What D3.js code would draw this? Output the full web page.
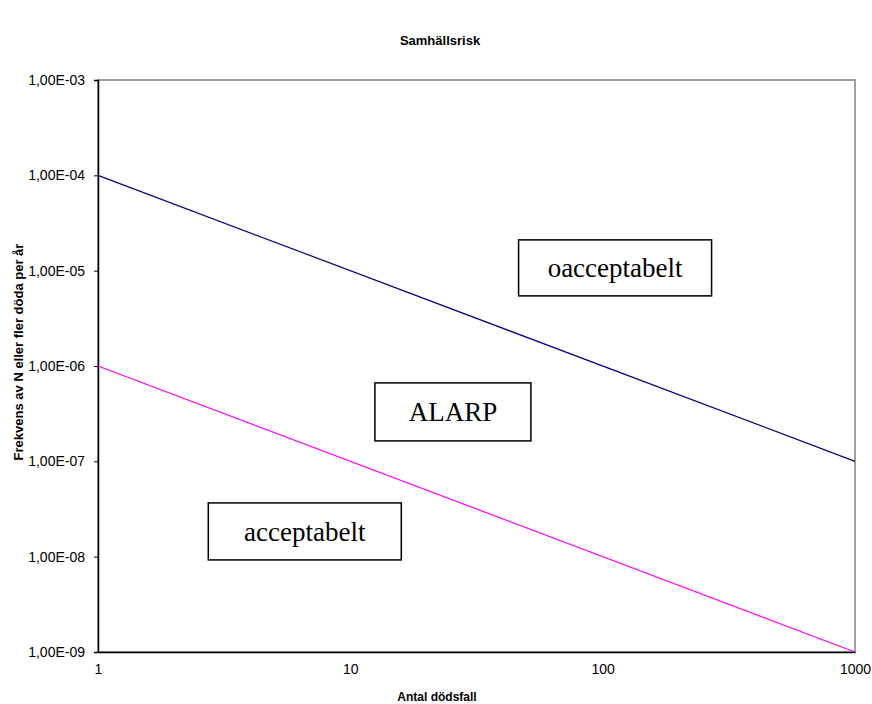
<!DOCTYPE html>
<html>
<head>
<meta charset="utf-8">
<script src="https://cdn.jsdelivr.net/npm/d3@7"></script>
<style>
  body { margin: 0; background: #fff; }
  svg { display: block; font-family: Arial, "Liberation Sans", sans-serif; }
</style>
</head>
<body>
<svg width="872" height="704"></svg>
<script>
// chart values
const xTicks = [1, 10, 100, 1000];
const yTicks = [1e-9, 1e-8, 1e-7, 1e-6, 1e-5, 1e-4, 1e-3];
const upperLine = [[1, 1e-4], [1000, 1e-7]];
const lowerLine = [[1, 1e-6], [1000, 1e-9]];
// text boxes: label, centre in data coords, box size
const boxLabels = ["acceptabelt", "ALARP", "oacceptabelt"];
const boxCentres = [[6.6, 1.84e-8], [25.5, 3.3e-7], [112, 1.07e-5]];
const boxSizes = [[193, 57], [156, 58], [193, 56]];

const svg = d3.select("svg");
const W = 872, H = 704;
const m = {left: 98, right: 17, top: 80, bottom: 52};
const pw = W - m.left - m.right, ph = H - m.top - m.bottom;

const x = d3.scaleLog().domain([1, 1000]).range([m.left, m.left + pw]);
const y = d3.scaleLog().domain([1e-9, 1e-3]).range([m.top + ph, m.top]);

const fmt = function(v) {
  const e = Math.round(Math.log10(v));
  return "1,00E-" + String(-e).padStart(2, "0");
};

// plot frame (top/right grey)
svg.append("rect")
  .attr("x", m.left).attr("y", m.top)
  .attr("width", pw).attr("height", ph)
  .attr("fill", "none").attr("stroke", "#808080").attr("stroke-width", 1.5);

// y axis
const yAxis = svg.append("g")
  .attr("transform", "translate(" + m.left + ",0)")
  .call(d3.axisLeft(y).tickValues(yTicks).tickFormat(fmt).tickSize(4).tickPadding(9));
yAxis.select(".domain").attr("stroke", "#000").attr("stroke-width", 1.5);
yAxis.selectAll("text").attr("font-size", 14).attr("fill", "#000")
  .attr("font-family", "Arial, 'Liberation Sans', sans-serif");

// x axis
const xAxis = svg.append("g")
  .attr("transform", "translate(0," + (m.top + ph) + ")")
  .call(d3.axisBottom(x).tickValues(xTicks).tickFormat(d3.format("d")).tickSize(0).tickPadding(12));
xAxis.select(".domain").attr("stroke", "#000").attr("stroke-width", 1.5);
xAxis.selectAll("text").attr("font-size", 14).attr("fill", "#000")
  .attr("font-family", "Arial, 'Liberation Sans', sans-serif");

// lines
const line = d3.line().x(d => x(d[0])).y(d => y(d[1]));
svg.append("path").datum(upperLine).attr("d", line)
  .attr("fill", "none").attr("stroke", "#000080").attr("stroke-width", 1.2);
svg.append("path").datum(lowerLine).attr("d", line)
  .attr("fill", "none").attr("stroke", "#FF00FF").attr("stroke-width", 1.2);

// annotation boxes
const boxes = svg.selectAll("g.box")
  .data(boxLabels.map((t, i) => ({t: t, c: boxCentres[i], s: boxSizes[i]})))
  .enter().append("g").attr("class", "box")
  .attr("transform", d => "translate(" + x(d.c[0]) + "," + y(d.c[1]) + ")");
boxes.append("rect")
  .attr("x", d => -d.s[0] / 2).attr("y", d => -d.s[1] / 2)
  .attr("width", d => d.s[0]).attr("height", d => d.s[1])
  .attr("fill", "#fff").attr("stroke", "#000").attr("stroke-width", 1.5);
boxes.append("text")
  .attr("text-anchor", "middle").attr("dy", "0.35em")
  .attr("font-family", "'Liberation Serif', 'Times New Roman', serif")
  .attr("font-size", 27)
  .text(d => d.t);

// titles
svg.append("text")
  .attr("x", 440).attr("y", 45)
  .attr("text-anchor", "middle").attr("font-weight", "bold").attr("font-size", 13)
  .text("Samhällsrisk");
svg.append("text")
  .attr("x", 437).attr("y", 701)
  .attr("text-anchor", "middle").attr("font-weight", "bold").attr("font-size", 12)
  .text("Antal dödsfall");
svg.append("text")
  .attr("transform", "translate(23,352) rotate(-90)")
  .attr("text-anchor", "middle").attr("font-weight", "bold").attr("font-size", 13)
  .text("Frekvens av N eller fler döda per år");
</script>
</body>
</html>
